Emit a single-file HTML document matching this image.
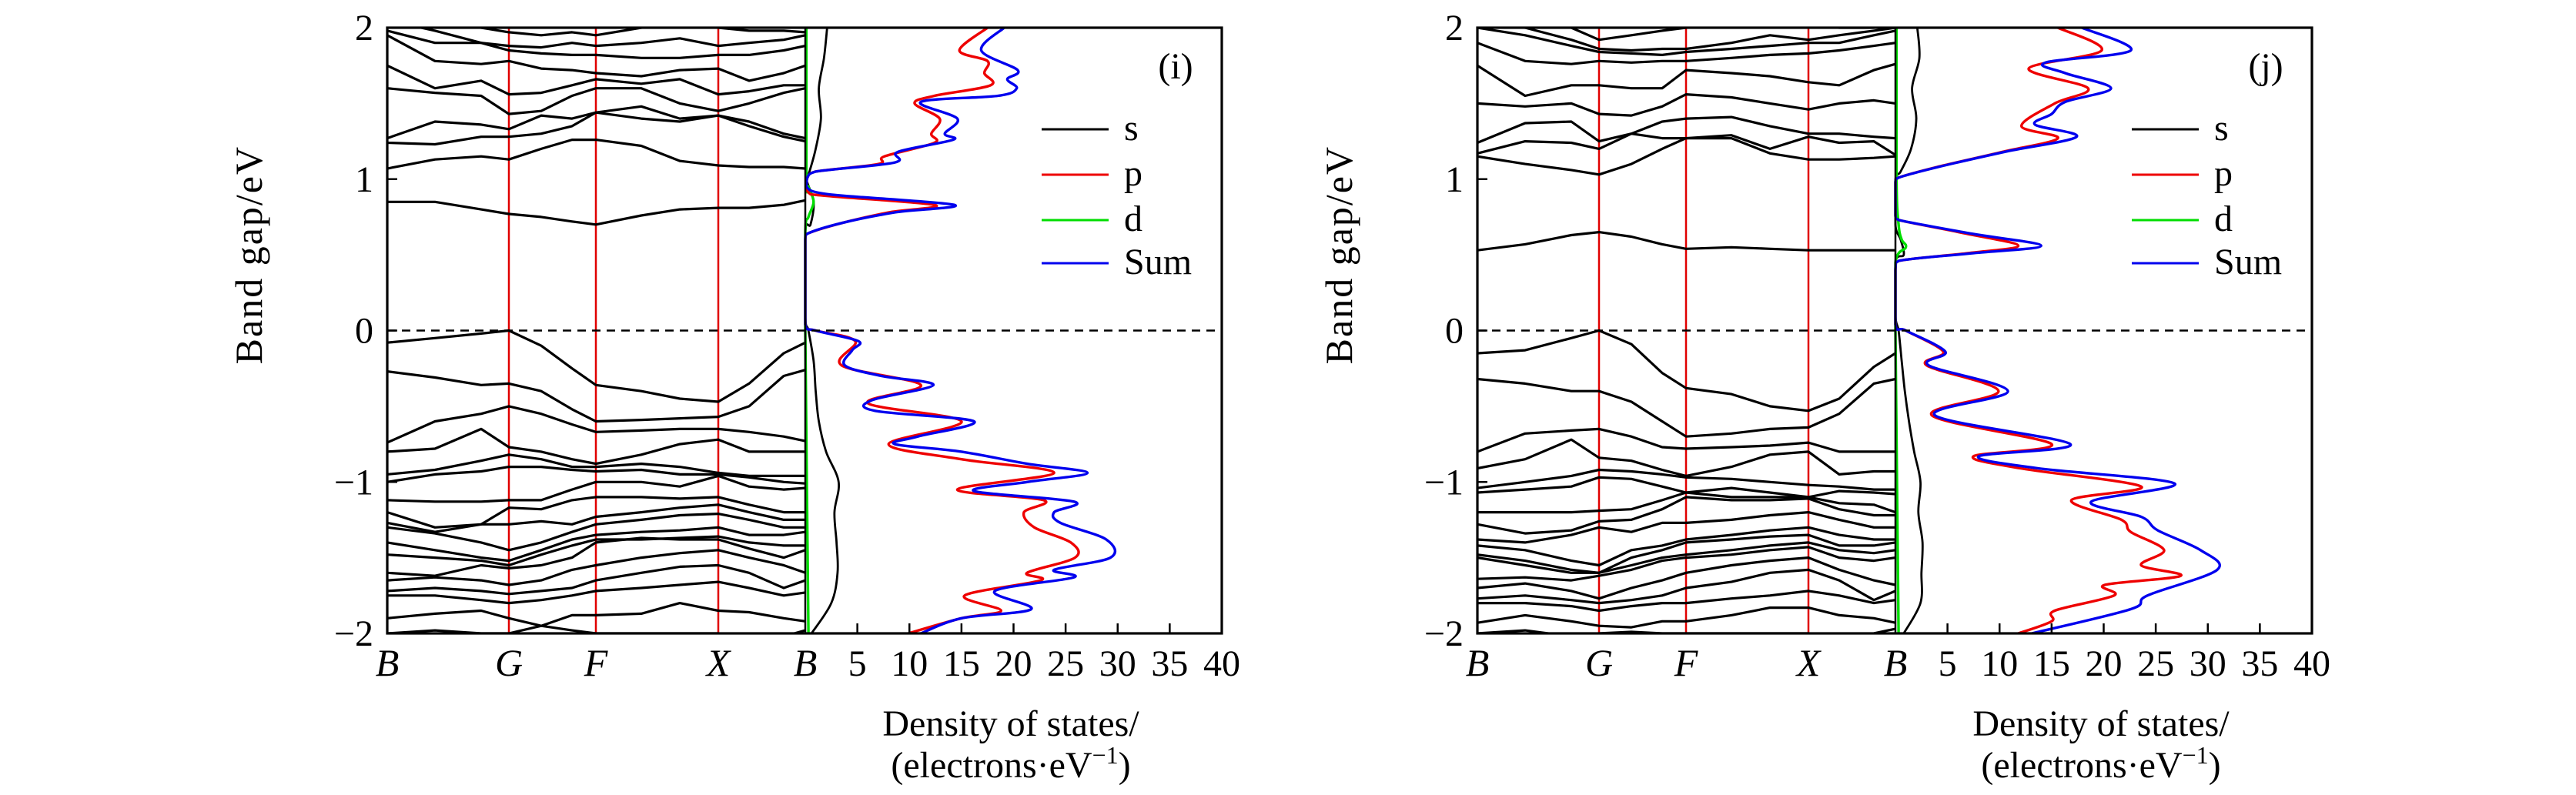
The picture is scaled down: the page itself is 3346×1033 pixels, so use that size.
<!DOCTYPE html>
<html><head><meta charset="utf-8"><style>
html,body{margin:0;padding:0;background:#fff;}
svg{display:block;}
svg text{font-family:"Liberation Serif","DejaVu Serif",serif;}
</style></head><body>
<svg id="chart" width="3346" height="1033" viewBox="0 0 3346 1033" xmlns="http://www.w3.org/2000/svg" font-family="Liberation Serif, DejaVu Serif, serif"></svg>
<script>
// ---- data ----
const kLabels = ["B","G","F","X","B"];
const kLabelIdx = [0,3,6,9,12];
const kDist = [0,62,122,158,200,240,271,330,380,430,470,515,543];
const yTicks = [-2,-1,0,1,2];
const dosTicks = [5,10,15,20,25,30,35,40];
const legendNames = ["s","p","d","Sum"];

const bandsI = [
[-0.08,-0.05,-0.02,0,-0.1,-0.25,-0.36,-0.4,-0.45,-0.47,-0.35,-0.15,-0.08],
[-0.27,-0.31,-0.36,-0.35,-0.4,-0.52,-0.6,-0.59,-0.58,-0.57,-0.5,-0.3,-0.26],
[-0.74,-0.6,-0.55,-0.5,-0.55,-0.62,-0.67,-0.66,-0.65,-0.65,-0.67,-0.7,-0.73],
[-0.8,-0.78,-0.65,-0.77,-0.8,-0.85,-0.88,-0.82,-0.75,-0.72,-0.8,-0.8,-0.8],
[-0.95,-0.92,-0.86,-0.82,-0.85,-0.9,-0.9,-0.88,-0.9,-0.94,-0.96,-0.96,-0.96],
[-1.0,-0.95,-0.93,-0.9,-0.9,-0.92,-0.93,-0.92,-0.95,-0.95,-0.97,-1.0,-1.01],
[-1.12,-1.13,-1.13,-1.12,-1.12,-1.05,-1.0,-1.0,-1.03,-0.96,-1.03,-1.05,-1.04],
[-1.2,-1.3,-1.28,-1.17,-1.18,-1.12,-1.1,-1.1,-1.11,-1.1,-1.15,-1.2,-1.2],
[-1.27,-1.33,-1.28,-1.28,-1.26,-1.28,-1.23,-1.2,-1.17,-1.15,-1.2,-1.25,-1.25],
[-1.3,-1.34,-1.4,-1.45,-1.4,-1.33,-1.28,-1.25,-1.22,-1.21,-1.25,-1.3,-1.3],
[-1.4,-1.45,-1.5,-1.52,-1.45,-1.38,-1.35,-1.33,-1.32,-1.3,-1.35,-1.35,-1.33],
[-1.48,-1.5,-1.52,-1.55,-1.48,-1.42,-1.38,-1.38,-1.37,-1.36,-1.4,-1.42,-1.42],
[-1.6,-1.62,-1.55,-1.57,-1.55,-1.5,-1.4,-1.37,-1.38,-1.38,-1.44,-1.5,-1.45],
[-1.65,-1.63,-1.65,-1.68,-1.65,-1.58,-1.55,-1.5,-1.47,-1.45,-1.5,-1.55,-1.6],
[-1.72,-1.7,-1.72,-1.74,-1.72,-1.7,-1.65,-1.6,-1.56,-1.55,-1.6,-1.7,-1.65],
[-1.75,-1.75,-1.78,-1.8,-1.78,-1.75,-1.72,-1.7,-1.68,-1.66,-1.7,-1.75,-1.73],
[-1.9,-1.87,-1.85,-1.9,-1.95,-1.88,-1.88,-1.87,-1.8,-1.85,-1.86,-1.9,-1.92],
[-2.0,-1.98,-2.0,-2.0,-1.95,-1.98,-2.0,-2.0,-2.0,-2.0,-2.05,-2.02,-1.98],
[0.85,0.85,0.8,0.77,0.75,0.72,0.7,0.76,0.8,0.81,0.81,0.83,0.86],
[1.07,1.13,1.15,1.13,1.2,1.26,1.26,1.22,1.12,1.09,1.08,1.08,1.07],
[1.24,1.23,1.28,1.28,1.3,1.35,1.44,1.4,1.38,1.42,1.35,1.28,1.25],
[1.27,1.38,1.36,1.33,1.42,1.4,1.44,1.48,1.4,1.42,1.38,1.3,1.27],
[1.6,1.57,1.55,1.43,1.45,1.55,1.6,1.6,1.5,1.45,1.5,1.57,1.6],
[1.75,1.6,1.65,1.56,1.57,1.62,1.66,1.63,1.66,1.56,1.58,1.62,1.62],
[1.95,1.78,1.76,1.78,1.73,1.72,1.7,1.68,1.72,1.73,1.65,1.7,1.75],
[1.98,1.9,1.9,1.85,1.83,1.82,1.82,1.8,1.8,1.82,1.82,1.85,1.88],
[2.05,1.98,1.9,1.88,1.87,1.9,1.88,1.9,1.93,1.88,1.9,1.92,1.95],
[2.1,2.05,2.0,1.97,1.95,1.97,1.95,2.0,2.05,2.0,1.98,1.98,1.97]
];
const bandsJ = [
[-0.15,-0.13,-0.05,0,-0.09,-0.28,-0.38,-0.42,-0.5,-0.53,-0.45,-0.24,-0.15],
[-0.32,-0.35,-0.4,-0.4,-0.47,-0.6,-0.7,-0.68,-0.65,-0.64,-0.55,-0.35,-0.32],
[-0.8,-0.68,-0.66,-0.65,-0.7,-0.77,-0.78,-0.77,-0.76,-0.74,-0.8,-0.8,-0.8],
[-0.91,-0.85,-0.72,-0.84,-0.86,-0.92,-0.96,-0.9,-0.82,-0.8,-0.95,-0.93,-0.93],
[-1.04,-1.0,-0.96,-0.92,-0.93,-0.95,-0.97,-0.98,-1.0,-1.02,-1.03,-1.05,-1.05],
[-1.07,-1.05,-1.03,-0.97,-0.98,-1.03,-1.07,-1.04,-1.07,-1.1,-1.06,-1.07,-1.08],
[-1.2,-1.2,-1.2,-1.19,-1.18,-1.12,-1.07,-1.1,-1.1,-1.1,-1.14,-1.15,-1.2],
[-1.28,-1.34,-1.32,-1.26,-1.25,-1.18,-1.1,-1.12,-1.12,-1.11,-1.18,-1.22,-1.22],
[-1.38,-1.4,-1.35,-1.3,-1.33,-1.27,-1.27,-1.25,-1.22,-1.2,-1.25,-1.3,-1.3],
[-1.42,-1.45,-1.52,-1.55,-1.45,-1.42,-1.38,-1.35,-1.32,-1.3,-1.35,-1.38,-1.38],
[-1.48,-1.52,-1.58,-1.6,-1.5,-1.45,-1.4,-1.38,-1.36,-1.35,-1.42,-1.42,-1.4],
[-1.5,-1.55,-1.6,-1.6,-1.55,-1.5,-1.48,-1.45,-1.42,-1.4,-1.45,-1.47,-1.45],
[-1.64,-1.63,-1.65,-1.62,-1.58,-1.52,-1.5,-1.48,-1.45,-1.43,-1.5,-1.52,-1.5],
[-1.7,-1.67,-1.72,-1.77,-1.7,-1.65,-1.6,-1.55,-1.52,-1.5,-1.58,-1.65,-1.68],
[-1.77,-1.75,-1.78,-1.8,-1.78,-1.75,-1.7,-1.66,-1.6,-1.58,-1.65,-1.78,-1.72],
[-1.8,-1.8,-1.82,-1.85,-1.82,-1.8,-1.8,-1.77,-1.75,-1.72,-1.75,-1.8,-1.78],
[-1.93,-1.88,-1.92,-1.95,-1.96,-1.92,-1.92,-1.88,-1.83,-1.83,-1.88,-1.9,-1.93],
[-2.0,-1.98,-2.02,-2.0,-1.99,-2.0,-2.0,-2.0,-2.0,-2.0,-2.02,-2.0,-1.97],
[0.53,0.57,0.63,0.65,0.62,0.57,0.54,0.55,0.54,0.53,0.53,0.53,0.53],
[1.15,1.1,1.06,1.03,1.1,1.2,1.27,1.27,1.17,1.13,1.13,1.14,1.15],
[1.17,1.25,1.24,1.2,1.3,1.27,1.27,1.29,1.2,1.28,1.24,1.25,1.16],
[1.24,1.37,1.38,1.25,1.3,1.38,1.4,1.41,1.35,1.3,1.3,1.28,1.27],
[1.5,1.48,1.5,1.43,1.42,1.48,1.56,1.54,1.5,1.46,1.5,1.52,1.5],
[1.75,1.55,1.62,1.62,1.6,1.6,1.72,1.7,1.68,1.64,1.62,1.72,1.76],
[1.9,1.78,1.76,1.78,1.77,1.78,1.78,1.8,1.82,1.83,1.85,1.88,1.9],
[2.0,1.95,1.88,1.84,1.83,1.82,1.84,1.86,1.88,1.9,1.9,1.95,1.98],
[2.05,2.0,1.92,1.86,1.85,1.86,1.86,1.9,1.95,1.92,1.95,1.98,2.0],
[2.1,2.05,2.0,1.92,1.95,1.98,2.0,2.04,2.06,2.02,2.0,2.0,2.02]
];

// DOS panel i
const sumEI = [2.0,1.85,1.72,1.66,1.6,1.55,1.51,1.4,1.3,1.26,1.18,1.11,1.05,1.01,0.95,0.9,0.83,0.78,0.71,0.64,0.6,0.3,0.04,0.0,-0.07,-0.13,-0.23,-0.3,-0.36,-0.46,-0.53,-0.6,-0.7,-0.75,-0.8,-0.88,-0.94,-1.0,-1.06,-1.13,-1.2,-1.27,-1.38,-1.5,-1.58,-1.63,-1.72,-1.84,-1.9,-2.0];
const sumI = [19.1,16.9,20.4,19.4,20.3,18.5,11.1,14.6,13.4,14.2,8.9,8.6,1.0,0.2,0.1,2.2,14.3,8.6,3.5,0.2,0,0,0,1.0,5.1,4.5,3.8,7.3,12.3,6.4,6.7,16.2,10.8,8.6,15.0,21.3,27.1,21.3,16.2,25.8,23.9,24.5,28.9,29.3,23.9,25.8,18.2,21.7,15.0,11.1];
const pEI = [2.0,1.85,1.78,1.7,1.62,1.55,1.5,1.4,1.3,1.24,1.15,1.1,1.05,1.01,0.95,0.9,0.83,0.78,0.71,0.64,0.6,0.3,0.04,0.0,-0.07,-0.23,-0.36,-0.48,-0.6,-0.75,-0.85,-0.94,-1.05,-1.12,-1.2,-1.3,-1.4,-1.5,-1.6,-1.65,-1.75,-1.85,-1.9,-2.0];
const pI = [17.5,14.8,17.5,17.2,17.8,12.4,10.5,12.9,12.1,12.4,7.6,7.0,1.0,0.2,0.1,0.5,12.4,8.0,3.5,0.2,0,0,0,1.0,4.8,3.5,11.1,6.0,15.0,8.0,15.0,23.9,14.6,22.9,21.0,22.0,25.5,25.9,21.3,22.6,15.3,18.8,15.0,9.9];
const sEI = [2.0,1.8,1.6,1.4,1.2,1.05,1.0,0.85,0.7,0.65,0.1,0.0,-0.2,-0.4,-0.6,-0.8,-1.0,-1.2,-1.4,-1.6,-1.8,-2.0];
const sI = [2.1,1.8,1.3,1.5,1.0,0.4,0.1,0.8,0.5,0,0,0.3,0.8,1.0,1.3,2.0,3.2,2.8,3.0,3.1,2.5,0.6];
const dEI = [2.0,1.0,0.95,0.85,0.75,0.65,0.0,-2.0];
const dI = [0.1,0.1,0.3,0.8,0.3,0,0,0.3];

// DOS panel j
const sumEJ = [2.0,1.85,1.77,1.7,1.6,1.51,1.43,1.36,1.28,1.18,1.08,1.01,0.98,0.76,0.73,0.64,0.56,0.51,0.46,0.4,0.04,0.0,-0.14,-0.23,-0.4,-0.56,-0.75,-0.83,-0.91,-1.01,-1.13,-1.23,-1.32,-1.45,-1.58,-1.75,-1.84,-2.0];
const sumJ = [17.9,22.6,14.4,16.3,20.7,16.3,15.0,13.4,17.4,10.5,4.1,0.3,0,0,0.3,7.3,14.0,7.3,0.3,0,0,1.0,4.8,3.2,10.8,3.8,16.8,8.0,13.7,26.8,18.8,23.6,25.2,29.3,30.9,24.2,22.6,13.1];
const pEJ = [2.0,1.85,1.73,1.6,1.5,1.35,1.27,1.18,1.08,1.01,0.98,0.76,0.73,0.64,0.56,0.51,0.46,0.4,0.04,0.0,-0.14,-0.23,-0.4,-0.56,-0.75,-0.83,-0.91,-1.03,-1.12,-1.25,-1.33,-1.45,-1.55,-1.62,-1.68,-1.75,-1.85,-1.92,-2.0];
const pJ = [15.6,19.8,12.8,18.5,15.3,12.1,15.6,10.3,4.0,0.3,0,0,0.3,6.8,11.8,6.8,0.3,0,0,1.0,4.6,3.0,9.9,3.5,15.0,7.5,12.0,23.6,16.9,21.7,22.6,25.8,23.6,27.4,20.1,21.0,15.3,15.0,11.8];
const sEJ = [2.0,1.8,1.6,1.4,1.2,1.05,1.0,0.7,0.6,0.5,0.45,0.1,0.0,-0.2,-0.4,-0.6,-0.8,-1.0,-1.2,-1.4,-1.6,-1.8,-2.0];
const sJ = [2.1,2.3,1.6,2.0,1.5,0.5,0.1,0,0.5,0.8,0,0,0.3,0.6,0.9,1.3,1.8,2.4,2.2,2.6,2.5,2.4,0.8];
const dEJ = [2.0,1.0,0.7,0.6,0.55,0.45,0.0,-2.0];
const dJ = [0.1,0.1,0.3,0.6,1.0,0,0,0.3];

// ---- drawing ----
const NS = "http://www.w3.org/2000/svg";
const FONT = "Liberation Serif, DejaVu Serif, serif";
const svg = document.getElementById("chart");
function mk(tag, attrs, parent){
  const e = document.createElementNS(NS, tag);
  for (const k in attrs) e.setAttribute(k, attrs[k]);
  if (tag === "text") e.setAttribute("font-family", FONT);
  (parent||svg).appendChild(e);
  return e;
}
function smoothPath(pts, minX){
  let d = "M"+pts[0][0].toFixed(1)+","+pts[0][1].toFixed(1);
  for (let i=0;i<pts.length-1;i++){
    const p0=pts[Math.max(0,i-1)], p1=pts[i], p2=pts[i+1], p3=pts[Math.min(pts.length-1,i+2)];
    const t=0.5/3;
    let c1=[p1[0]+(p2[0]-p0[0])*t, p1[1]+(p2[1]-p0[1])*t];
    let c2=[p2[0]-(p3[0]-p1[0])*t, p2[1]-(p3[1]-p1[1])*t];
    const lo = Math.min(p1[0],p2[0]);
    if (lo <= minX+8) { c1[0]=Math.max(c1[0], lo); c2[0]=Math.max(c2[0], lo); }
    c1[0]=Math.max(c1[0],minX); c2[0]=Math.max(c2[0],minX);
    d += " C"+c1[0].toFixed(1)+","+c1[1].toFixed(1)+" "+c2[0].toFixed(1)+","+c2[1].toFixed(1)+" "+p2[0].toFixed(1)+","+p2[1].toFixed(1);
  }
  return d;
}

function panel(ox, tag, bands, dos){
  const L=503+ox, M=1046+ox, R=1587+ox, T=36, B=823;
  const yS = e => T + (2-e)*(B-T)/4;
  const kS = k => L + k;
  const dS = v => M + v*(R-M)/40;
  const g = mk("g", {});
  
  
  const cid = "clip"+tag;
  const cp = mk("clipPath", {id:cid}, g);
  mk("rect", {x:L, y:T, width:R-L, height:B-T}, cp);
  const plot = mk("g", {"clip-path":"url(#"+cid+")"}, g);
  kLabelIdx.slice(1,4).forEach(i=>{
    const l = mk("line", {x1:kS(kDist[i]), x2:kS(kDist[i]), y1:T, y2:B, stroke:"#e00000","stroke-width":2.5}, plot);
    
    
  });
  bands.forEach((b,bi)=>{
    const d = b.map((e,i)=>(i?"L":"M")+kS(kDist[i]).toFixed(1)+","+yS(e).toFixed(1)).join(" ");
    const p = mk("path", {d:d, fill:"none", stroke:"#000","stroke-width":3.2,"stroke-linejoin":"round"}, plot);
    
    
  });
  const cols = {s:"#000", d:"#00dd00", p:"#ee0000", sum:"#0000ee"};
  [["s",dos.sE,dos.s],["d",dos.dE,dos.d],["p",dos.pE,dos.p],["sum",dos.sumE,dos.sum]].forEach(([n,E,V])=>{
    const pts = E.map((e,i)=>[dS(V[i]), yS(e)]);
    const p = mk("path", {d:smoothPath(pts, M), fill:"none", stroke:cols[n], "stroke-width":n==="s"?2.8:3.4}, plot);
    
    
  });
  const fl = mk("line", {x1:L, x2:R, y1:yS(0), y2:yS(0), stroke:"#000","stroke-width":2.5,"stroke-dasharray":"11,8"}, g);
  
  
  const dv = mk("line", {x1:M, x2:M, y1:T, y2:B, stroke:"#000","stroke-width":2.5}, g);
  
  
  const fr = mk("rect", {x:L, y:T, width:R-L, height:B-T, fill:"none", stroke:"#000","stroke-width":3.2}, g);
  
  
  yTicks.forEach(v=>{
    if (v>-2 && v<2) mk("line", {x1:L, x2:L+13, y1:yS(v), y2:yS(v), stroke:"#000","stroke-width":2.5}, g);
    const t = mk("text", {x:L-18, y:yS(v)+16, "text-anchor":"end", "font-size":48}, g);
    t.textContent = v<0 ? "\u2212"+Math.abs(v) : String(v);
    
    
  });
  kLabelIdx.forEach((ki,i)=>{
    const t = mk("text", {x:kS(kDist[ki]), y:878, "text-anchor":"middle", "font-size":50, "font-style":"italic"}, g);
    t.textContent = kLabels[i];
    
    
  });
  dosTicks.forEach(v=>{
    if (v<40) mk("line", {x1:dS(v), x2:dS(v), y1:B, y2:B-13, stroke:"#000","stroke-width":2.5}, g);
    const t = mk("text", {x:dS(v), y:878, "text-anchor":"middle", "font-size":48}, g);
    t.textContent = String(v);
    
    
  });
  const yt = mk("text", {x:0, y:0, "text-anchor":"middle", "font-size":50, transform:"translate("+(L-163)+","+yS(0.5)+") rotate(-90)", "letter-spacing":"2"}, g);
  yt.textContent = "Band gap/eV";
  
  
  const xt1 = mk("text", {x:L+810, y:956, "text-anchor":"middle", "font-size":48}, g);
  xt1.textContent = "Density of states/";
  
  
  const xt2 = mk("text", {x:L+810, y:1010, "text-anchor":"middle", "font-size":48}, g);
  xt2.innerHTML = '(electrons\u00b7eV<tspan dy="-18" font-size="32">\u22121</tspan><tspan dy="18">)</tspan>';
  
  
  const pt = mk("text", {x:R-60, y:102, "text-anchor":"middle", "font-size":48}, g);
  pt.textContent = "("+tag+")";
  
  
  const lc = ["#000","#ee0000","#00dd00","#0000ee"];
  const ly = [168,227,286,342];
  legendNames.forEach((n,i)=>{
    const le = mk("g", {}, g);
    
    
    mk("line", {x1:L+850, x2:L+937, y1:ly[i], y2:ly[i], stroke:lc[i], "stroke-width":3}, le);
    const t = mk("text", {x:L+957, y:ly[i]+14, "font-size":48}, le);
    t.textContent = n;
  });
}
panel(0, "i", bandsI, {sumE:sumEI,sum:sumI,pE:pEI,p:pI,sE:sEI,s:sI,dE:dEI,d:dI});
panel(1416, "j", bandsJ, {sumE:sumEJ,sum:sumJ,pE:pEJ,p:pJ,sE:sEJ,s:sJ,dE:dEJ,d:dJ});
</script>
</body></html>
